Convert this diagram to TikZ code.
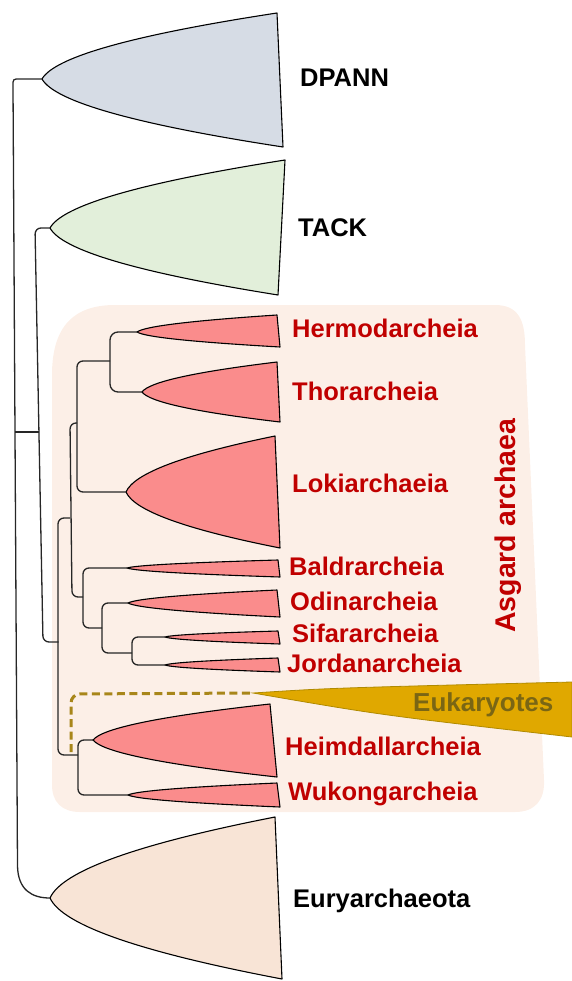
\documentclass[tikz,border=0pt]{standalone}
\usepackage{fontspec}
\setmainfont{Liberation Sans}
\usetikzlibrary{calc}
\definecolor{dpannc}{HTML}{D6DCE5}
\definecolor{tackc}{HTML}{E2EFDA}
\definecolor{asgc}{HTML}{FA8C8C}
\definecolor{euryc}{HTML}{F8E4D6}
\definecolor{boxc}{HTML}{FCEFE7}
\definecolor{redt}{HTML}{C00000}
\definecolor{eukc}{HTML}{E0A800}
\definecolor{eukline}{HTML}{B08A00}
\definecolor{eukt}{HTML}{7A6614}
\definecolor{dashc}{HTML}{A8861A}
\newcommand\cladeshape[8]{%
 \pgfmathsetmacro\cAx{#2+0.0533*(#4-#2)}%
 \pgfmathsetmacro\cAy{#3+(#5-#3)/3}%
 \pgfmathsetmacro\cBx{#4-0.613*(#4-#2)}%
 \pgfmathsetmacro\cBy{#5-(#5-#3)/3}%
 \pgfmathsetmacro\dAx{#2+0.0533*(#6-#2)}%
 \pgfmathsetmacro\dAy{#3+(#7-#3)/3}%
 \pgfmathsetmacro\dBx{#6-0.613*(#6-#2)}%
 \pgfmathsetmacro\dBy{#7-(#7-#3)/3}%
 \coordinate (#1) at (#2,#3);
 \filldraw[cladestyle,fill=#8] (#2,#3) .. controls (\cAx,\cAy) and (\cBx,\cBy) .. (#4,#5) -- (#6,#7) .. controls (\dBx,\dBy) and (\dAx,\dAy) .. (#2,#3) -- cycle;
}
\tikzset{
 cladestyle/.style={draw=black, line width=1.1pt, line join=round},
 branch/.style={draw=black!85, line width=1.3pt, rounded corners=6pt},
 lab/.style={font=\bfseries\fontsize{25.5}{30}\selectfont, text=redt, inner sep=0pt, anchor=base west},
 blab/.style={lab, text=black},
}
\begin{document}
\begin{tikzpicture}[x=1pt,y=-1pt]
\useasboundingbox (0,0) rectangle (572,981);
% Asgard background
\fill[boxc] (52,375) .. controls (52,325) and (75,305) .. (115,305) -- (495,305) .. controls (518,305) and (525,320) .. (525,345) -- (544,780) .. controls (545,800) and (535,812) .. (515,812) -- (80,812) .. controls (62,812) and (52,802) .. (52,785) -- cycle;
% clades
\cladeshape{dpann}{42}{79}{277}{13}{283}{147}{dpannc}
\cladeshape{tack}{50}{228}{285}{160}{278}{295}{tackc}
\cladeshape{hermod}{137}{332}{277}{315}{280}{347}{asgc}
\cladeshape{thor}{142}{392}{277}{362}{280}{422}{asgc}
\cladeshape{loki}{126}{492}{275}{436}{280}{548}{asgc}
\cladeshape{baldr}{127}{568}{278}{560}{280}{577}{asgc}
\cladeshape{odin}{128}{603}{277}{590}{280}{617}{asgc}
\cladeshape{sif}{165}{637}{278}{631}{280}{644}{asgc}
\cladeshape{jordan}{165}{665}{278}{658}{280}{672}{asgc}
\cladeshape{heim}{93}{740}{270}{704}{277}{777}{asgc}
\cladeshape{wukong}{128}{795}{277}{783}{280}{807}{asgc}
\cladeshape{eury}{50}{898}{275}{817}{282}{979}{euryc}
% tree branches
\draw[branch, rounded corners=0pt] (dpann) -- (20,79) .. controls (13,79) .. (13,86) -- (17.5,866) .. controls (18,890) and (32,898) .. (eury);
\draw[branch] (15,432) -- (39,432);
\draw[branch] (tack) -- (35,228) -- (43,642) -- (58.5,642);
\draw[branch] (70,518) -- (58,518) -- (58,755) -- (78,755);
\draw[branch] (77,423) -- (70,423) -- (72,597) -- (83,597);
\draw[branch] (110,361) -- (77,361) -- (77,492) -- (loki);
\draw[branch, rounded corners=8pt] (hermod) -- (110,332) -- (110,392) -- (thor);
\draw[branch] (baldr) -- (83,568) -- (83,628) -- (102,628);
\draw[branch] (odin) -- (102,603) -- (102,653) -- (132,653);
\draw[branch] (sif) -- (132,637) -- (132,665) -- (jordan);
\draw[branch] (heim) -- (78,740) -- (78,795) -- (wukong);
% eukaryotes
\coordinate (euk) at (253,693);
\draw[draw=dashc, line width=3pt, dash pattern=on 8pt off 4.5pt, rounded corners=9pt] (71,752) -- (71,694) -- (euk);
\filldraw[fill=eukc, draw=eukline, line width=0.8pt] (euk) .. controls (330,688) .. (572,682) -- (572,737) .. controls (380,715) .. (euk) -- cycle;
% labels
\node[blab] (dpannL) at (300,87) {DPANN};
\node[blab] (tackL) at (298,237) {TACK};
\node[blab] (euryL) at (293,907) {Euryarchaeota};
\node[lab] (hermodL) at (292,337) {Hermodarcheia};
\node[lab] (thorL) at (292,400) {Thorarcheia};
\node[lab] (lokiL) at (292,492) {Lokiarchaeia};
\node[lab] (baldrL) at (289,575) {Baldrarcheia};
\node[lab] (odinL) at (290,610) {Odinarcheia};
\node[lab] (sifL) at (292,642) {Sifararcheia};
\node[lab] (jordanL) at (287,672) {Jordanarcheia};
\node[lab] (heimL) at (285,755) {Heimdallarcheia};
\node[lab] (wukongL) at (288,800) {Wukongarcheia};
\node[lab, text=eukt, font=\bfseries\fontsize{26}{30}\selectfont] (eukL) at (413,711) {Eukaryotes};
\node[lab, rotate=90, font=\bfseries\fontsize{28.5}{32}\selectfont] (asgL) at (515,633) {Asgard archaea};
\end{tikzpicture}
\end{document}
